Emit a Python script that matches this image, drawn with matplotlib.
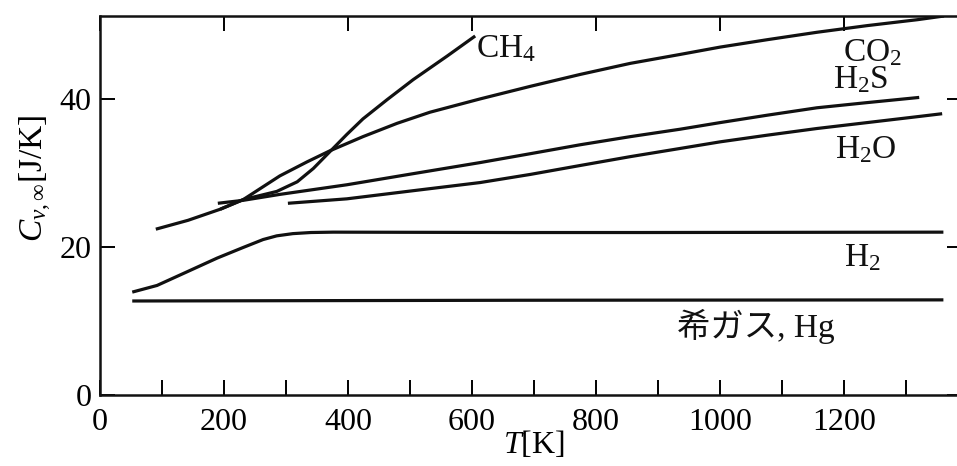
import numpy as np
import matplotlib
matplotlib.use("Agg")
import matplotlib.pyplot as plt
from matplotlib.ticker import MultipleLocator

plt.rcParams['font.family'] = ['Liberation Serif', 'Noto Sans CJK JP']
plt.rcParams['mathtext.fontset'] = 'custom'
plt.rcParams['mathtext.rm'] = 'Liberation Serif'
plt.rcParams['mathtext.it'] = 'Liberation Serif:italic'

# values: T [K], C_v,inf [J/K]
co2_T = [90, 142, 194, 231, 290, 334, 371, 424, 479, 532, 613, 694, 774, 855,
         935, 1000, 1076, 1156, 1237, 1318, 1361]
co2_C = [22.4, 23.6, 25.1, 26.4, 29.6, 31.5, 33.0, 34.9, 36.7, 38.2, 40.0, 41.7,
         43.3, 44.8, 46.0, 47.0, 48.0, 49.0, 49.9, 50.7, 51.2]

ch4_T = [194, 231, 285, 318, 344, 371, 398, 424, 463, 505, 560, 605]
ch4_C = [25.1, 26.4, 27.5, 28.8, 30.6, 32.9, 35.2, 37.3, 39.9, 42.6, 45.8, 48.5]

h2s_T = [190, 231, 290, 398, 505, 613, 694, 774, 855, 935, 1000, 1076, 1156,
         1237, 1321]
h2s_C = [25.9, 26.3, 27.1, 28.4, 29.9, 31.4, 32.6, 33.8, 34.9, 35.9, 36.8, 37.8,
         38.8, 39.5, 40.2]

h2o_T = [303, 398, 505, 613, 694, 774, 855, 935, 1000, 1076, 1156, 1237, 1318, 1358]
h2o_C = [25.9, 26.5, 27.6, 28.7, 29.8, 31.0, 32.2, 33.3, 34.2, 35.1, 36.0, 36.8,
         37.6, 38.0]

h2_T = [52, 92, 134, 189, 230, 263, 285, 311, 340, 376, 677, 871, 1360]
h2_C = [13.9, 14.8, 16.4, 18.5, 19.9, 21.0, 21.5, 21.8, 21.95, 22.0, 21.95, 21.95, 22.0]

rare_T = [52, 677, 1360]
rare_C = [12.7, 12.8, 12.85]

labels = ['CH$_4$', 'CO$_2$', 'H$_2$S', 'H$_2$O', 'H$_2$', '希ガス, Hg']
label_T = [606, 1198, 1182, 1185, 1200, 931]
label_C = [45.7, 45.1, 41.4, 32.0, 17.4, 7.8]

fig = plt.figure(figsize=(9.57, 4.66), dpi=100)
ax = fig.add_axes([100 / 957, 71 / 466, 862 / 957, 379 / 466])

lw = 2.3
for T, C in [(co2_T, co2_C), (ch4_T, ch4_C), (h2s_T, h2s_C),
             (h2o_T, h2o_C), (h2_T, h2_C), (rare_T, rare_C)]:
    ax.plot(T, C, color='#111111', lw=lw, solid_capstyle='butt',
            solid_joinstyle='round')

for s, t, c in zip(labels, label_T, label_C):
    ax.text(t, c, s, fontsize=24, ha='left', va='baseline', color='#111111')

ax.set_xlim(0, 1390)
ax.set_ylim(0, 51.2)

ax.xaxis.set_major_locator(MultipleLocator(200))
ax.xaxis.set_minor_locator(MultipleLocator(100))
ax.set_yticks([0, 20, 40])

ax.tick_params(axis='x', which='major', direction='in', length=11, width=1.4,
               top=True, bottom=True, labelsize=23, pad=9)
ax.tick_params(axis='x', which='minor', direction='in', length=11, width=1.4,
               top=False, bottom=True)
ax.tick_params(axis='y', which='major', direction='in', length=11, width=1.4,
               left=True, right=True, labelsize=23, pad=6)

for sp in ax.spines.values():
    sp.set_linewidth(1.8)
    sp.set_color('#111111')
ax.spines['right'].set_visible(False)

ax.set_xlabel('$T$[K]', fontsize=23)
ax.xaxis.set_label_coords(0.503, -0.09)
ax.set_ylabel(r'$C_{v,\infty}$[J/K]', fontsize=24)
ax.yaxis.set_label_coords(-0.053, 0.573)

fig.savefig('out.png', dpi=100)
